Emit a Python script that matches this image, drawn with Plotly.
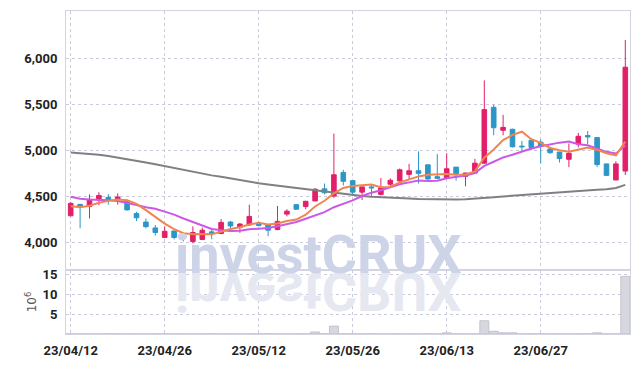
import plotly.graph_objects as go

# ---------------- data ----------------
dates = [
    "2023-04-12", "2023-04-13", "2023-04-14", "2023-04-17", "2023-04-18", "2023-04-19", "2023-04-20", "2023-04-21",
    "2023-04-24", "2023-04-25", "2023-04-26", "2023-04-27", "2023-04-28", "2023-05-02", "2023-05-03", "2023-05-04",
    "2023-05-08", "2023-05-09", "2023-05-10", "2023-05-11", "2023-05-12", "2023-05-15", "2023-05-16", "2023-05-17",
    "2023-05-18", "2023-05-19", "2023-05-22", "2023-05-23", "2023-05-24", "2023-05-25", "2023-05-26", "2023-05-30",
    "2023-05-31", "2023-06-01", "2023-06-02", "2023-06-05", "2023-06-07", "2023-06-08", "2023-06-09", "2023-06-12",
    "2023-06-13", "2023-06-14", "2023-06-15", "2023-06-16", "2023-06-19", "2023-06-20", "2023-06-21", "2023-06-22",
    "2023-06-23", "2023-06-26", "2023-06-27", "2023-06-28", "2023-06-29", "2023-06-30", "2023-07-03", "2023-07-04",
    "2023-07-05", "2023-07-06", "2023-07-07", "2023-07-10",
]
open_ = [4286, 4410, 4386, 4457, 4486, 4468, 4450, 4311, 4218, 4154,
         4050, 4121, 4075, 4007, 4029, 4111, 4093, 4218, 4161, 4186,
         4204, 4186, 4136, 4304, 4407, 4386, 4447, 4579, 4500, 4757,
         4668, 4543, 4600, 4518, 4629, 4665, 4736, 4775, 4840, 4711,
         4697, 4815, 4715, 4750, 4858, 5465, 5215, 5226, 5043, 5108,
         5086, 5011, 4979, 4900, 5065, 5158, 5136, 4850, 4675, 4772]
high = [4435, 4412, 4518, 4543, 4522, 4529, 4464, 4329, 4257, 4186,
        4171, 4121, 4100, 4171, 4157, 4132, 4250, 4229, 4207, 4407,
        4222, 4186, 4393, 4357, 4414, 4450, 4586, 4636, 5179, 4786,
        4668, 4600, 4622, 4697, 4693, 4800, 4850, 4986, 4840, 4958,
        4965, 4815, 4757, 4904, 5758, 5494, 5383, 5233, 5100, 5118,
        5115, 5036, 4979, 5072, 5186, 5208, 5136, 4850, 4879, 6197]
low = [4280, 4150, 4257, 4400, 4407, 4407, 4343, 4229, 4150, 4071,
       4043, 4029, 4007, 3986, 4021, 4032, 4086, 4132, 4100, 4179,
       4172, 4064, 4129, 4279, 4357, 4357, 4447, 4518, 4482, 4615,
       4500, 4457, 4500, 4507, 4607, 4657, 4686, 4636, 4679, 4686,
       4686, 4668, 4607, 4750, 4850, 5161, 5161, 5029, 4990, 5000,
       4857, 4958, 4865, 4815, 5029, 5065, 4815, 4725, 4675, 4729]
close = [4421, 4385, 4464, 4507, 4464, 4490, 4350, 4264, 4168, 4104,
         4118, 4050, 4043, 4104, 4129, 4093, 4214, 4175, 4196, 4279,
         4179, 4129, 4225, 4336, 4357, 4443, 4575, 4536, 4732, 4661,
         4543, 4600, 4590, 4590, 4672, 4786, 4775, 4747, 4686, 4693,
         4797, 4743, 4750, 4858, 5440, 5243, 5247, 5036, 5036, 5029,
         5043, 4972, 4908, 4965, 5150, 5143, 4843, 4725, 4850, 5901]
ma_short = [4390, 4380, 4395, 4428, 4448, 4462, 4455, 4415, 4347, 4275,
            4201, 4141, 4097, 4084, 4089, 4084, 4117, 4143, 4161, 4191,
            4209, 4192, 4202, 4230, 4245, 4298, 4387, 4449, 4529, 4589,
            4609, 4614, 4625, 4597, 4599, 4648, 4683, 4714, 4733, 4737,
            4740, 4733, 4734, 4768, 4918, 5007, 5108, 5165, 5200, 5118,
            5078, 5023, 4998, 4983, 5008, 5028, 5002, 4965, 4942, 5092]
ma_mid = [4493, 4472, 4464, 4461, 4454, 4446, 4429, 4404, 4379, 4362,
          4331, 4298, 4256, 4216, 4182, 4142, 4129, 4120, 4123, 4140,
          4146, 4154, 4172, 4196, 4218, 4253, 4289, 4326, 4379, 4417,
          4454, 4501, 4537, 4563, 4594, 4629, 4649, 4670, 4665, 4668,
          4694, 4708, 4724, 4751, 4828, 4873, 4920, 4949, 4984, 5018,
          5042, 5065, 5081, 5092, 5063, 5053, 5013, 4981, 4963, 5050]
ma_long = [4975, 4968, 4960, 4950, 4936, 4920, 4903, 4885, 4866, 4846,
           4826, 4803, 4780, 4759, 4740, 4725, 4709, 4690, 4672, 4655,
           4640, 4627, 4614, 4602, 4590, 4577, 4565, 4550, 4537, 4524,
           4512, 4502, 4494, 4487, 4481, 4477, 4473, 4469, 4466, 4463,
           4461, 4462, 4465, 4470, 4477, 4486, 4496, 4504, 4512, 4520,
           4528, 4534, 4541, 4548, 4555, 4562, 4568, 4575, 4589, 4622]
volume_m = [0.05, 0.05, 0.05, 0.05, 0.05, 0.05, 0.05, 0.05, 0.05, 0.05,
            0.05, 0.05, 0.05, 0.05, 0.05, 0.05, 0.05, 0.05, 0.05, 0.05,
            0.05, 0.05, 0.05, 0.05, 0.05, 0.05, 0.5, 0.05, 2.0, 0.05,
            0.05, 0.05, 0.05, 0.05, 0.05, 0.05, 0.05, 0.05, 0.05, 0.05,
            0.3, 0.05, 0.05, 0.05, 3.35, 0.7, 0.3, 0.3, 0.05, 0.05,
            0.05, 0.05, 0.05, 0.05, 0.05, 0.05, 0.3, 0.05, 0.05, 14.6]
tick_dates = ["2023-04-12", "2023-04-26", "2023-05-12", "2023-05-26", "2023-06-13", "2023-06-27"]
tick_labels = ["23/04/12", "23/04/26", "23/05/12", "23/05/26", "23/06/13", "23/06/27"]
price_ticks = [4000, 4500, 5000, 5500, 6000]
volume_ticks = [5, 10, 15]
watermark = "investCRUX"

# ---------------- styles ----------------
RED = "#e2206a"
BLUE = "#2d96c9"
GRID = "#c9cbdc"
BORDER = "#d3d4e0"
TICKFONT = dict(family="Roboto, sans-serif", size=13, color="#222222", weight="bold")
VOL_FRAC = 0.198

fig = go.Figure()
fig.add_trace(go.Candlestick(
    x=dates, open=open_, high=high, low=low, close=close,
    increasing=dict(line=dict(color=RED, width=1), fillcolor=RED),
    decreasing=dict(line=dict(color=BLUE, width=1), fillcolor=BLUE),
    whiskerwidth=0, xaxis="x", yaxis="y", showlegend=False, hoverinfo="skip",
))
fig.add_trace(go.Scatter(x=dates, y=ma_long, mode="lines", line=dict(color="#808080", width=2),
                         xaxis="x", yaxis="y", showlegend=False, hoverinfo="skip"))
fig.add_trace(go.Scatter(x=dates, y=ma_mid, mode="lines", line=dict(color="#cc58e8", width=2),
                         xaxis="x", yaxis="y", showlegend=False, hoverinfo="skip"))
fig.add_trace(go.Scatter(x=dates, y=ma_short, mode="lines", line=dict(color="#ef8650", width=2),
                         xaxis="x", yaxis="y", showlegend=False, hoverinfo="skip"))
fig.add_trace(go.Bar(x=dates, y=volume_m, marker=dict(color="#d7d7df", line=dict(color="#c3c3cc", width=1)),
                     xaxis="x2", yaxis="y2", showlegend=False, hoverinfo="skip"))

axis_common = dict(showgrid=True, gridcolor=GRID, griddash="dot", gridwidth=1,
                   showline=True, linecolor=BORDER, linewidth=1, mirror=True,
                   zeroline=False, ticks="")

fig.update_layout(
    width=639, height=366,
    margin=dict(l=66, r=8, t=9, b=29),
    paper_bgcolor="white", plot_bgcolor="white",
    bargap=0.05,
    xaxis=dict(type="category", domain=[0, 1], anchor="y", range=[-0.5, 59.5],
               tickvals=tick_dates, showticklabels=False,
               rangeslider=dict(visible=False), **axis_common),
    xaxis2=dict(type="category", domain=[0, 1], anchor="y2", matches="x", range=[-0.5, 59.5],
                tickvals=tick_dates, ticktext=tick_labels, tickfont=TICKFONT,
                ticklabelstandoff=4, **axis_common),
    yaxis=dict(domain=[VOL_FRAC, 1], anchor="x", range=[3696, 6512], tickvals=price_ticks,
               tickformat=",", tickfont=TICKFONT, ticklabelstandoff=5, **axis_common),
    yaxis2=dict(domain=[0, VOL_FRAC], anchor="x2", range=[0, 16.2], tickvals=volume_ticks,
                tickfont=TICKFONT, ticklabelstandoff=5,
                title=dict(text="10<sup>6</sup>", font=dict(family="DejaVu Sans", size=12, color="#555555"),
                           standoff=3),
                **axis_common),
    showlegend=False,
)

# watermark (reflection first, flipped by script below; then the main text)
wm_font = dict(family="Roboto, Liberation Sans, sans-serif", size=54, weight="bold")
fig.add_annotation(text=watermark, xref="paper", yref="paper", x=0.447, y=VOL_FRAC,
                   xanchor="center", yanchor="bottom", yshift=-18, showarrow=False,
                   font=dict(color="#e6e8f1", **wm_font))
fig.add_annotation(text=watermark, xref="paper", yref="paper", x=0.447, y=VOL_FRAC,
                   xanchor="center", yanchor="bottom", yshift=-18, showarrow=False,
                   font=dict(color="#cdd4e8", **wm_font))

flip_js = """
var gd = document.getElementById('{plot_id}');
var t = gd.querySelectorAll('.annotation-text')[0];
if (t) {
  var b = t.getAttribute('y');
  if (b !== null) {
    b = parseFloat(b);
    t.setAttribute('transform', 'translate(0,' + (2 * b) + ') scale(1,-1)');
  }
}
"""

fig.write_html("out.html", post_script=flip_js)
